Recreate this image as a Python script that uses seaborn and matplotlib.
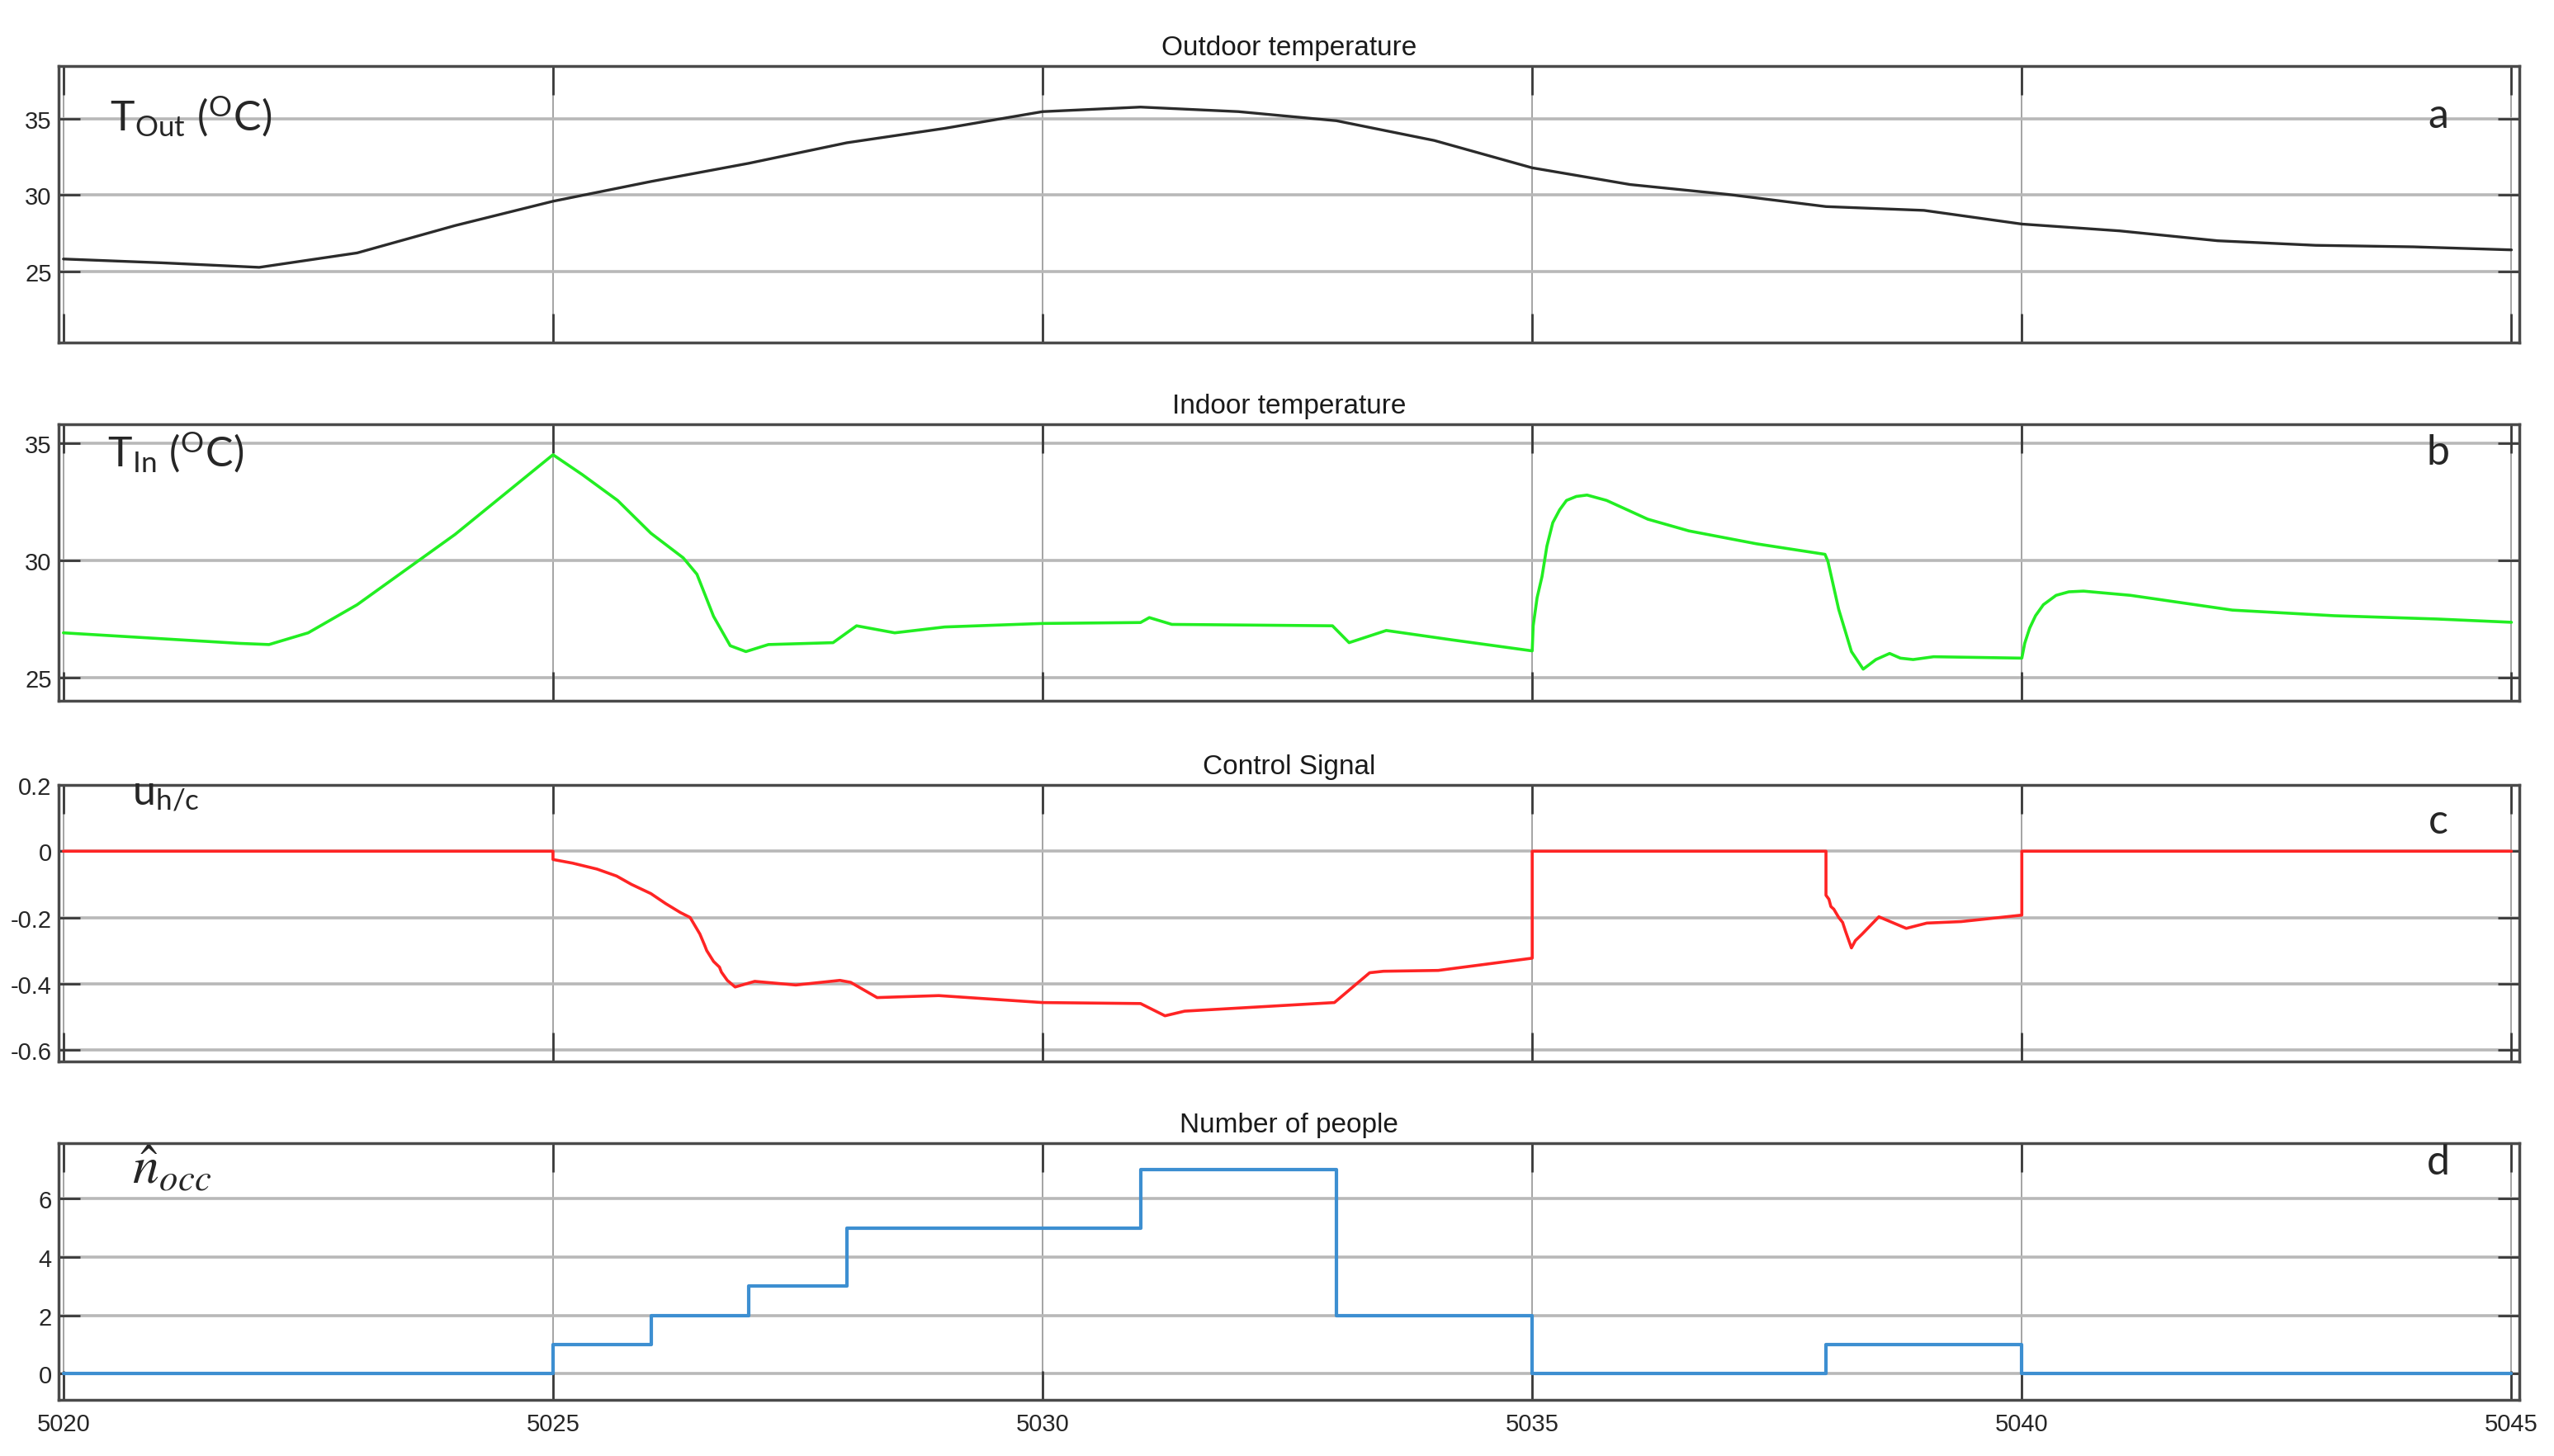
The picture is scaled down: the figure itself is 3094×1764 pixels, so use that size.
import matplotlib
matplotlib.use("Agg")
import matplotlib.pyplot as plt
import seaborn as sns

# ---- data ----
t_out_time = [5020, 5021, 5022, 5023, 5024, 5025, 5026, 5027, 5028, 5029, 5030, 5031, 5032,
              5033, 5034, 5035, 5036, 5037, 5038, 5039, 5040, 5041, 5042, 5043, 5044, 5045]
t_out = [25.8, 25.55, 25.25, 26.2, 28.0, 29.6, 30.9, 32.1, 33.45, 34.4, 35.5, 35.8, 35.5,
         34.9, 33.6, 31.8, 30.7, 30.05, 29.25, 29.0, 28.1, 27.65, 27.0, 26.7, 26.6, 26.4]

t_in_time = [5020, 5021, 5021.8, 5022.1, 5022.5, 5023, 5024, 5025, 5025.3, 5025.66, 5026.0,
             5026.33, 5026.47, 5026.64, 5026.81, 5026.97, 5027.2, 5027.86, 5028.1, 5028.49,
             5029.0, 5030, 5031.0, 5031.09, 5031.32, 5032.96, 5033.13, 5033.51, 5034.18,
             5035.0, 5035.01, 5035.05, 5035.1, 5035.15, 5035.21, 5035.28, 5035.35, 5035.45,
             5035.56, 5035.76, 5036.18, 5036.6, 5037.29, 5037.99, 5038.02, 5038.13, 5038.26,
             5038.38, 5038.51, 5038.65, 5038.76, 5038.89, 5039.1, 5040.0, 5040.03, 5040.08,
             5040.14, 5040.22, 5040.35, 5040.48, 5040.63, 5041.11, 5042.15, 5043.19, 5044.24,
             5045.0]
t_in = [26.9, 26.65, 26.45, 26.4, 26.9, 28.1, 31.1, 34.5, 33.65, 32.55, 31.15,
        30.1, 29.4, 27.6, 26.35, 26.1, 26.4, 26.48, 27.2, 26.9,
        27.15, 27.3, 27.34, 27.55, 27.26, 27.2, 26.48, 27.0, 26.6,
        26.13, 27.2, 28.4, 29.3, 30.6, 31.6, 32.15, 32.55, 32.72,
        32.78, 32.55, 31.75, 31.25, 30.7, 30.25, 29.95, 27.9, 26.1,
        25.35, 25.76, 26.02, 25.82, 25.76, 25.88, 25.82, 26.46, 27.1,
        27.63, 28.1, 28.5, 28.65, 28.68, 28.5, 27.87, 27.63, 27.49,
        27.35]

u_time = [5020, 5025.0, 5025.0, 5025.2, 5025.45, 5025.65, 5025.8, 5026.0, 5026.15, 5026.3,
          5026.4, 5026.5, 5026.55, 5026.57, 5026.64, 5026.7, 5026.72, 5026.78, 5026.86,
          5027.06, 5027.48, 5027.93, 5028.04, 5028.31, 5028.94, 5030.0, 5031.0, 5031.25,
          5031.45, 5032.98, 5033.34, 5033.48, 5034.04, 5035.0, 5035.0, 5038.0, 5038.0,
          5038.03, 5038.05, 5038.08, 5038.13, 5038.17, 5038.2, 5038.26, 5038.3, 5038.37,
          5038.54, 5038.82, 5039.03, 5039.38, 5040.0, 5040.0, 5045]
u_hc = [0, 0, -0.025, -0.036, -0.054, -0.075, -0.1, -0.128, -0.158, -0.185,
        -0.2, -0.25, -0.285, -0.30, -0.333, -0.35, -0.365, -0.39, -0.41,
        -0.393, -0.404, -0.39, -0.396, -0.442, -0.436, -0.457, -0.46, -0.497,
        -0.483, -0.457, -0.367, -0.3625, -0.36, -0.323, 0, 0, -0.133,
        -0.145, -0.167, -0.175, -0.2, -0.215, -0.242, -0.292, -0.27, -0.25,
        -0.198, -0.233, -0.217, -0.2125, -0.193, 0, 0]

occ_time = [5020, 5025, 5026, 5027, 5028, 5031, 5033, 5035, 5038, 5040, 5045]
n_occ = [0, 1, 2, 3, 5, 7, 2, 0, 1, 0, 0]

titles = ["Outdoor temperature", "Indoor temperature", "Control Signal", "Number of people"]
panel_tags = ["a", "b", "c", "d"]
x_ticks = [5020, 5025, 5030, 5035, 5040, 5045]

sns.set_style("ticks")
plt.rcParams['font.family'] = ['Liberation Sans Narrow', 'Liberation Sans', 'DejaVu Sans']
plt.rcParams['mathtext.fontset'] = 'stix'

fig = plt.figure(figsize=(30.94, 17.65), dpi=100)
left, width = 0.0229, 0.9635
boxes = [(0.7643, 0.1898), (0.5184, 0.1898), (0.2708, 0.1898), (0.0385, 0.1762)]
axes = [fig.add_axes([left, b, width, h]) for b, h in boxes]

sns.lineplot(x=t_out_time, y=t_out, ax=axes[0], color='#2b2b2b', lw=2.4,
             estimator=None, sort=False)
sns.lineplot(x=t_in_time, y=t_in, ax=axes[1], color='#22ee22', lw=2.6,
             estimator=None, sort=False)
sns.lineplot(x=u_time, y=u_hc, ax=axes[2], color='#ff2424', lw=2.6,
             estimator=None, sort=False)
sns.lineplot(x=occ_time, y=n_occ, ax=axes[3], color='#3d8fd1', lw=3,
             estimator=None, sort=False, drawstyle='steps-post')

ylims = [(20.3, 38.5), (24.0, 35.8), (-0.635, 0.2), (-0.9, 7.9)]
yticks = [[25, 30, 35], [25, 30, 35], [-0.6, -0.4, -0.2, 0, 0.2], [0, 2, 4, 6]]
ytick_labels = [["25", "30", "35"], ["25", "30", "35"],
                ["-0.6", "-0.4", "-0.2", "0", "0.2"], ["0", "2", "4", "6"]]

for i, ax in enumerate(axes):
    ax.set_xlim(5019.95, 5045.08)
    ax.set_ylim(*ylims[i])
    ax.set_yticks(yticks[i])
    ax.set_yticklabels(ytick_labels[i])
    ax.set_xticks(x_ticks)
    ax.set_xlabel('')
    ax.set_ylabel('')
    for xv in x_ticks:
        ax.axvline(xv, color='#8c8c8c', lw=1.1, zorder=0)
    for yv in yticks[i]:
        ax.axhline(yv, color='#b8b8b8', lw=2.6, zorder=0)
    for s in ax.spines.values():
        s.set_visible(True)
        s.set_color('#4a4a4a')
        s.set_linewidth(2.5)
    ax.tick_params(axis='y', direction='in', length=19, width=2, color='#3a3a3a',
                   left=True, right=True, labelsize=21, pad=6, labelcolor='#262626')
    ax.tick_params(axis='x', direction='in', length=25, width=2, color='#3a3a3a',
                   bottom=True, top=True, labelsize=21, pad=11, labelcolor='#262626')
    if i < 3:
        ax.set_xticklabels([])
    ax.set_title(titles[i], fontsize=24, pad=10, color='#1a1a1a')
    ax.text(0.967, [0.82, 0.9, 0.87, 0.925][i], panel_tags[i], transform=ax.transAxes,
            fontsize=36, family='Lato', ha='center', va='center')

lab_kw = dict(fontsize=36, family='Lato', ha='left', va='center')
axes[0].text(0.021, 0.82, r'T$_{\mathregular{Out}}$ ($^{\mathregular{O}}$C)',
             transform=axes[0].transAxes, **lab_kw)
axes[1].text(0.02, 0.9, r'T$_{\mathregular{In}}$ ($^{\mathregular{O}}$C)',
             transform=axes[1].transAxes, **lab_kw)
axes[2].text(0.03, 0.97, r'u$_{\mathregular{h/c}}$', transform=axes[2].transAxes, **lab_kw)
axes[3].text(0.03, 0.9, r'$\hat{n}_{occ}$', transform=axes[3].transAxes,
             fontsize=46, ha='left', va='center')

fig.savefig('out.png', dpi=100, facecolor='white')
